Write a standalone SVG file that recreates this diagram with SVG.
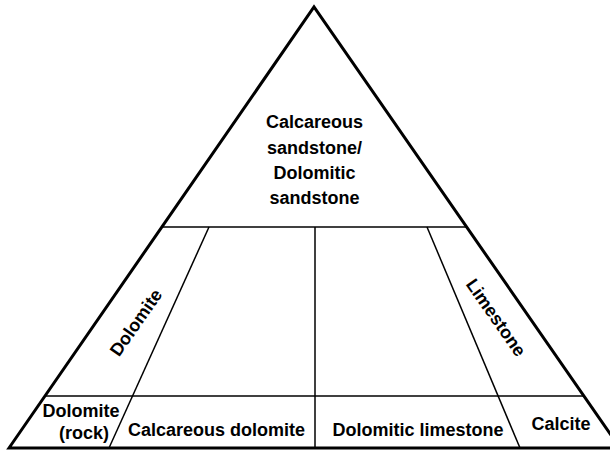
<svg xmlns="http://www.w3.org/2000/svg" width="610" height="450" viewBox="0 0 610 450">
  <style>
    .outer { fill: none; stroke: #000; stroke-width: 3; stroke-linejoin: miter; }
    .inner { fill: none; stroke: #000; stroke-width: 1.5; }
    .lbl { font-family: "Liberation Sans", Arial, sans-serif; font-weight: bold; font-size: 18px; fill: #000; text-anchor: middle; }
  </style>
  <rect x="0" y="0" width="610" height="450" fill="#fff"/>
  <g id="connectors">
    <path class="outer" d="M9,448 L314,7 L620,448 Z"/>
    <line class="inner" x1="162" y1="227" x2="466" y2="227"/>
    <line class="inner" x1="45" y1="396" x2="583" y2="396"/>
    <line class="inner" x1="315" y1="227" x2="315" y2="448"/>
    <line class="inner" x1="209" y1="227" x2="109" y2="448"/>
    <line class="inner" x1="427" y1="227" x2="520" y2="448"/>
  </g>
  <g id="calcareous-sandstone">
    <text class="lbl" x="314.5" y="128">Calcareous</text>
    <text class="lbl" x="314.5" y="154">sandstone/</text>
    <text class="lbl" x="314.5" y="179">Dolomitic</text>
    <text class="lbl" x="314.5" y="204">sandstone</text>
  </g>
  <g id="dolomite-zone">
    <text class="lbl" transform="translate(141,326) rotate(-55)">Dolomite</text>
  </g>
  <g id="limestone-zone">
    <text class="lbl" transform="translate(491,321) rotate(55)">Limestone</text>
  </g>
  <g id="dolomite-rock">
    <text class="lbl" x="81" y="417">Dolomite</text>
    <text class="lbl" x="84" y="439">(rock)</text>
  </g>
  <g id="calcareous-dolomite">
    <text class="lbl" x="216.5" y="436">Calcareous dolomite</text>
  </g>
  <g id="dolomitic-limestone">
    <text class="lbl" x="418" y="436">Dolomitic limestone</text>
  </g>
  <g id="calcite">
    <text class="lbl" x="561" y="430">Calcite</text>
  </g>
</svg>
